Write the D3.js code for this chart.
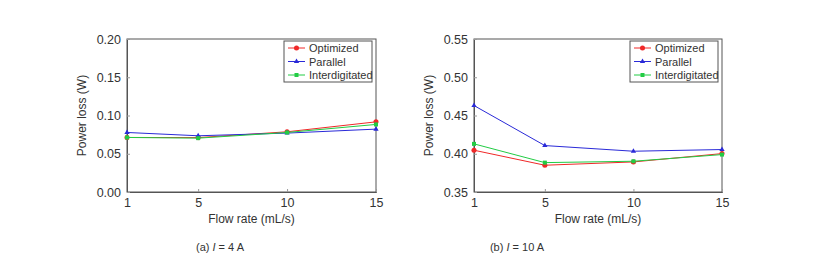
<!DOCTYPE html>
<html>
<head>
<meta charset="utf-8">
<script src="https://cdn.jsdelivr.net/npm/d3@7"></script>
<style>
  body { margin: 0; background: #fff; }
  svg text { font-family: "Liberation Sans", Arial, sans-serif; fill: #333; }
</style>
</head>
<body>
<svg id="chart" width="817" height="273"></svg>
<script>
"use strict";

const flowRates = [1, 5, 10, 15];
const xTicks = [1, 5, 10, 15];
const seriesNames = ["Optimized", "Parallel", "Interdigitated"];

// I = 4 A
const optimizedA = [0.0713, 0.0711, 0.0787, 0.0917];
const parallelA = [0.0778, 0.0735, 0.0770, 0.0822];
const interdigitatedA = [0.0713, 0.0704, 0.0778, 0.0883];
const yTicksA = [0.00, 0.05, 0.10, 0.15, 0.20];

// I = 10 A
const optimizedB = [0.4046, 0.3850, 0.3893, 0.4002];
const parallelB = [0.4630, 0.4107, 0.4033, 0.4055];
const interdigitatedB = [0.4129, 0.3884, 0.3902, 0.3989];
const yTicksB = [0.35, 0.40, 0.45, 0.50, 0.55];

const colors = ["#f02828", "#2a2ad8", "#22cc44"];
const markers = [d3.symbolCircle, d3.symbolTriangle, d3.symbolSquare];
const markerSizes = [20, 12, 16];

const svg = d3.select("#chart");

function drawPanel(opts) {
  const { left, right, top, bottom, yDomain, yTicks, series, legendX, yLabelX, caption, captionX } = opts;

  const xScale = d3.scaleLinear().domain([1, 15]).range([left, right]);
  const yScale = d3.scaleLinear().domain(yDomain).range([bottom, top]);

  const g = svg.append("g");

  // frame
  g.append("rect")
    .attr("x", left).attr("y", top)
    .attr("width", right - left).attr("height", bottom - top)
    .attr("fill", "none").attr("stroke", "#555").attr("stroke-width", 1);

  const xAxis = d3.axisBottom(xScale).tickValues(xTicks).tickSize(-3).tickPadding(6)
    .tickFormat(d3.format("d"));
  const yAxis = d3.axisLeft(yScale).tickValues(yTicks).tickSize(-3).tickPadding(6)
    .tickFormat(d3.format(".2f"));

  const gx = g.append("g").attr("transform", `translate(0,${bottom})`).call(xAxis);
  const gy = g.append("g").attr("transform", `translate(${left},0)`).call(yAxis);
  [gx, gy].forEach(ax => {
    ax.select(".domain").attr("stroke", "#555");
    ax.selectAll(".tick line").attr("stroke", "#999");
    ax.selectAll(".tick text")
      .style("font-family", "Liberation Sans, Arial, sans-serif")
      .attr("font-size", 12.5).attr("fill", "#333");
  });

  // axis titles
  g.append("text")
    .attr("x", (left + right) / 2).attr("y", bottom + 31)
    .attr("text-anchor", "middle").attr("font-size", 12)
    .text("Flow rate (mL/s)");
  g.append("text")
    .attr("transform", `translate(${yLabelX},${(top + bottom) / 2}) rotate(-90)`)
    .attr("text-anchor", "middle").attr("font-size", 12)
    .text("Power loss (W)");

  const line = d3.line()
    .x((d, i) => xScale(flowRates[i]))
    .y(d => yScale(d));

  series.forEach((vals, k) => {
    g.append("path")
      .attr("d", line(vals))
      .attr("fill", "none")
      .attr("stroke", colors[k])
      .attr("stroke-width", 1);
    g.selectAll(null)
      .data(vals)
      .enter()
      .append("path")
      .attr("transform", (d, i) => `translate(${xScale(flowRates[i])},${yScale(d)})`)
      .attr("d", d3.symbol().type(markers[k]).size(markerSizes[k]))
      .attr("fill", colors[k]);
  });

  // legend
  const lg = g.append("g").attr("transform", `translate(${legendX},${top + 2})`);
  lg.append("rect")
    .attr("x", 0).attr("y", 0).attr("width", 88).attr("height", 41)
    .attr("fill", "#fff").attr("stroke", "#555").attr("stroke-width", 1);
  seriesNames.forEach((name, k) => {
    const yy = 7 + k * 13.5;
    lg.append("line")
      .attr("x1", 4).attr("x2", 21).attr("y1", yy).attr("y2", yy)
      .attr("stroke", colors[k]).attr("stroke-width", 1);
    lg.append("path")
      .attr("transform", `translate(12.5,${yy})`)
      .attr("d", d3.symbol().type(markers[k]).size(markerSizes[k]))
      .attr("fill", colors[k]);
    lg.append("text")
      .attr("x", 25).attr("y", yy + 4)
      .attr("font-size", 11)
      .text(name);
  });

  // caption
  const cap = g.append("text")
    .attr("x", captionX).attr("y", 251)
    .attr("text-anchor", "middle").attr("font-size", 11);
  cap.append("tspan").text(caption[0]);
  cap.append("tspan").attr("font-style", "italic").text("I");
  cap.append("tspan").text(caption[1]);
}

drawPanel({
  left: 127, right: 376, top: 39, bottom: 192,
  yDomain: [0, 0.20], yTicks: yTicksA,
  series: [optimizedA, parallelA, interdigitatedA],
  legendX: 284, yLabelX: 86,
  caption: ["(a) ", " = 4 A"], captionX: 220
});

drawPanel({
  left: 474, right: 722, top: 39, bottom: 192,
  yDomain: [0.35, 0.55], yTicks: yTicksB,
  series: [optimizedB, parallelB, interdigitatedB],
  legendX: 630, yLabelX: 433,
  caption: ["(b) ", " = 10 A"], captionX: 517
});
</script>
</body>
</html>
